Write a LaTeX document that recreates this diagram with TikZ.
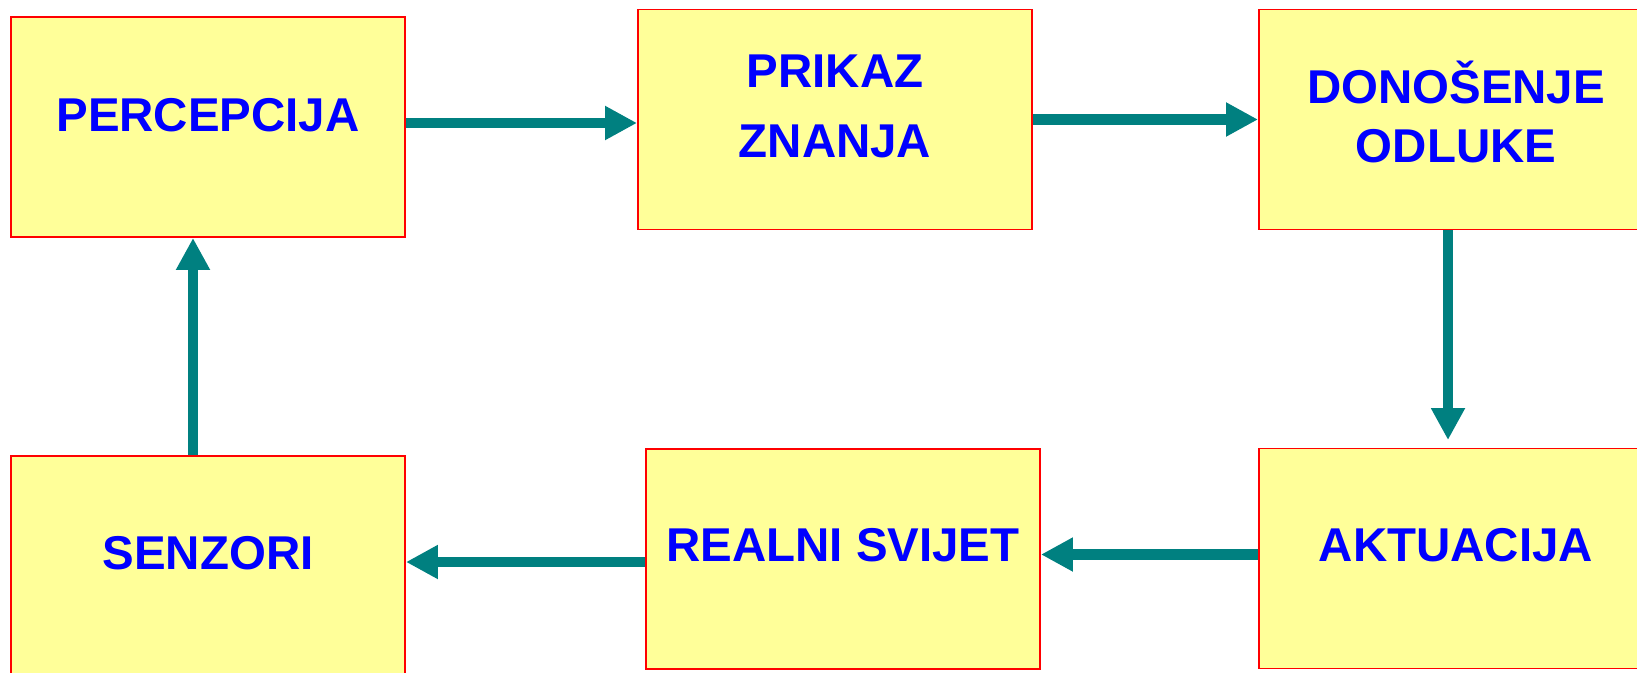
\documentclass[tikz,border=0pt]{standalone}
\usepackage{fontspec}
\setmainfont{Liberation Sans}
\usetikzlibrary{arrows.meta}
\definecolor{zuta}{HTML}{FFFF99}
\definecolor{tirkiz}{HTML}{008080}
\definecolor{plava}{HTML}{0000FF}
\definecolor{crvena}{HTML}{FF0000}
\tikzset{
  blok/.style={draw=crvena,fill=zuta,line width=1.1pt,minimum width=7.88cm,minimum height=4.4cm,inner sep=0pt},
  natpis/.style={text=plava,font=\fontsize{27}{33.5}\selectfont\bfseries,align=center,inner sep=0pt},
  strelica/.style={draw=tirkiz,line width=6pt,-{Triangle[length=0.64cm,width=0.64cm]}}
}
\begin{document}
\begin{tikzpicture}
		\useasboundingbox (0,0) rectangle (32.74,13.44);
		\clip (0,0) rectangle (32.74,13.44);
		\node[blok,label={[natpis,yshift=0.24cm]center:PERCEPCIJA}] (perc) at (4.16,10.90) {};
		\node[blok,label={[natpis,yshift=0.26cm]center:PRIKAZ\\[6.3pt]ZNANJA}] (prikaz) at (16.70,11.05) {};
		\node[blok,label={[natpis,yshift=0.15cm]center:DONOŠENJE\\ODLUKE}] (odluka) at (29.12,11.05) {};
		\node[blok,label={[natpis,yshift=0.26cm]center:AKTUACIJA}] (akt) at (29.12,2.27) {};
		\node[blok,label={[natpis,yshift=0.27cm]center:REALNI SVIJET}] (svijet) at (16.86,2.26) {};
		\node[blok,label={[natpis,yshift=0.26cm]center:SENZORI}] (senzori) at (4.16,2.12) {};
		\draw[strelica] ([yshift=0.08cm]perc.east) -- ([yshift=0.08cm]perc.east -| prikaz.west);
		\draw[strelica] (prikaz.east) -- (prikaz.east -| odluka.west);
		\draw[strelica,shorten >=0.15cm] ([xshift=-0.16cm]odluka.south) -- ([xshift=-0.16cm]odluka.south |- akt.north);
		\draw[strelica] ([yshift=0.08cm]akt.west) -- ([yshift=0.08cm]akt.west -| svijet.east);
		\draw[strelica] ([yshift=-0.06cm]svijet.west) -- ([yshift=-0.06cm]svijet.west -| senzori.east);
		\draw[strelica] ([xshift=-0.3cm]senzori.north) -- ([xshift=-0.3cm]senzori.north |- perc.south);
	\end{tikzpicture}
\end{document}
